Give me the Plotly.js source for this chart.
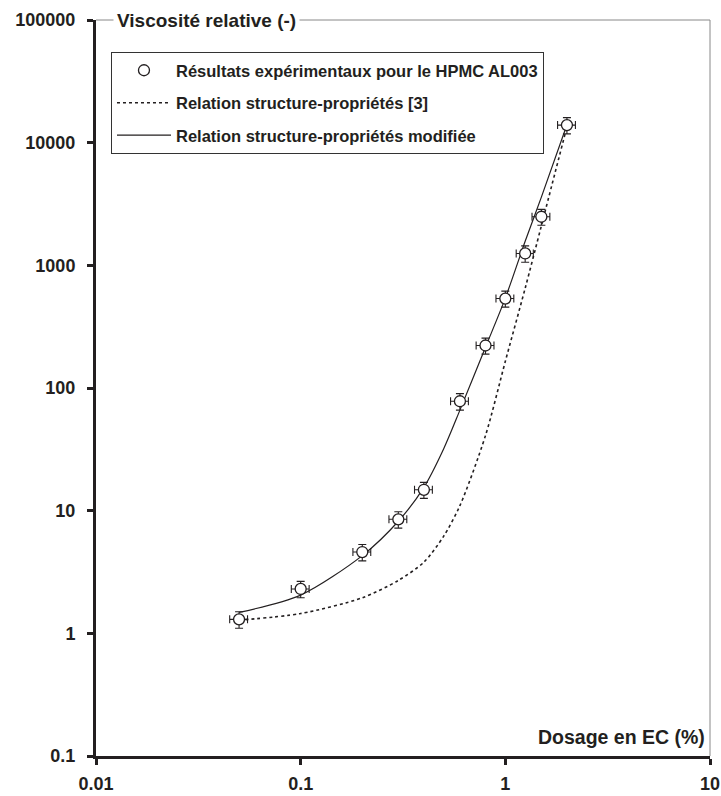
<!DOCTYPE html>
<html>
<head>
<meta charset="utf-8">
<script src="https://cdn.plot.ly/plotly-3.0.1.min.js"></script>
<style>html,body{margin:0;padding:0;background:#fff;}</style>
</head>
<body>
<div id="chart" style="width:721px;height:796px;"></div>
<script>
// Experimental results (HPMC AL003)
const expX = [0.05, 0.1, 0.2, 0.3, 0.4, 0.6, 0.8, 1.0, 1.25, 1.5, 2.0];
const expY = [1.3, 2.3, 4.6, 8.5, 14.8, 78, 222, 536, 1250, 2490, 13900];
const expErrY = [0.2, 0.35, 0.7, 1.3, 2.2, 12, 33, 80, 190, 370, 2100];
const expErrX = [0.005, 0.01, 0.02, 0.03, 0.04, 0.06, 0.08, 0.1, 0.12, 0.15, 0.2];

// Model curves
const modelX = [0.05, 0.1, 0.2, 0.3, 0.4, 0.5, 0.6, 0.8, 1.0, 1.25, 1.5, 2.0];
const origY = [1.28, 1.45, 1.95, 2.7, 3.8, 6.2, 11, 41, 165, 650, 2100, 13500];
const modY = [1.48, 2.05, 4.3, 8.2, 15.5, 32, 66, 215, 540, 1570, 3600, 14000];

const xTicks = [0.01, 0.1, 1, 10];
const xTickText = ['0.01', '0.1', '1', '10'];
const yTicks = [0.1, 1, 10, 100, 1000, 10000, 100000];
const yTickText = ['0.1', '1', '10', '100', '1000', '10000', '100000'];

const names = [
  'Résultats expérimentaux pour le HPMC AL003',
  'Relation structure-propriétés [3]',
  'Relation structure-propriétés modifiée'
];

const FONT = 'Liberation Sans, Arial, sans-serif';
const INK = '#231f20';

const traces = [
  {
    x: modelX, y: origY, mode: 'lines', name: names[1],
    line: {color: INK, width: 1.6, dash: 'dot', shape: 'spline', smoothing: 0.8},
    legendgroup: 'b', legendrank: 2
  },
  {
    x: modelX, y: modY, mode: 'lines', name: names[2],
    line: {color: INK, width: 1.2, shape: 'spline', smoothing: 0.8},
    legendgroup: 'c', legendrank: 3
  },
  {
    x: expX, y: expY, mode: 'markers', name: names[0],
    marker: {symbol: 'circle', size: 11, color: '#fff', line: {color: INK, width: 1.3}},
    error_y: {type: 'data', array: expErrY, arrayminus: expErrY, color: INK, thickness: 1.1, width: 4},
    error_x: {type: 'data', array: expErrX, arrayminus: expErrX, color: INK, thickness: 1.1, width: 4},
    legendgroup: 'a', legendrank: 1
  }
];

const layout = {
  width: 721, height: 796,
  margin: {l: 96, r: 11, t: 20, b: 40},
  paper_bgcolor: '#fff', plot_bgcolor: '#fff',
  font: {family: FONT, color: INK, size: 15, weight: 'bold'},
  showlegend: true,
  legend: {
    x: 0.0244, y: 0.9565, xanchor: 'left', yanchor: 'top',
    bgcolor: '#fff', bordercolor: '#333', borderwidth: 1,
    font: {family: FONT, size: 16.5, color: INK, weight: 'bold'},
    traceorder: 'grouped', tracegroupgap: 8, itemwidth: 54
  },
  xaxis: {
    type: 'log', range: [-2, 1],
    tickvals: xTicks, ticktext: xTickText,
    ticks: 'outside', ticklen: 6, tickwidth: 3, tickcolor: INK,
    showline: true, linewidth: 3, linecolor: INK,
    showgrid: false, zeroline: false,
    tickfont: {family: FONT, size: 18, color: INK, weight: 'bold'},
    ticklabelstandoff: 3
  },
  yaxis: {
    type: 'log', range: [-1, 5],
    tickvals: yTicks, ticktext: yTickText,
    ticks: 'outside', ticklen: 6, tickwidth: 3, tickcolor: INK,
    showline: true, linewidth: 3, linecolor: INK,
    showgrid: false, zeroline: false,
    tickfont: {family: FONT, size: 18, color: INK, weight: 'bold'},
    ticklabelstandoff: 8
  },
  shapes: [
    {type: 'line', xref: 'paper', yref: 'paper', x0: 0, x1: 1, y0: 1, y1: 1, line: {color: '#888', width: 1}},
    {type: 'line', xref: 'paper', yref: 'paper', x0: 1, x1: 1, y0: 0, y1: 1, line: {color: '#888', width: 1}}
  ],
  annotations: [
    {
      text: 'Viscosité relative (-)', xref: 'paper', yref: 'paper',
      x: 0.027, y: 1, xanchor: 'left', yanchor: 'middle', showarrow: false,
      bgcolor: '#fff', borderpad: 3,
      font: {family: FONT, size: 19, color: INK, weight: 'bold'}
    },
    {
      text: 'Dosage en EC (%)', xref: 'paper', yref: 'paper',
      x: 0.995, y: 0.026, xanchor: 'right', yanchor: 'middle', showarrow: false,
      font: {family: FONT, size: 19.5, color: INK, weight: 'bold'}
    }
  ]
};

Plotly.newPlot('chart', traces, layout, {displayModeBar: false, staticPlot: true});
</script>
</body>
</html>
